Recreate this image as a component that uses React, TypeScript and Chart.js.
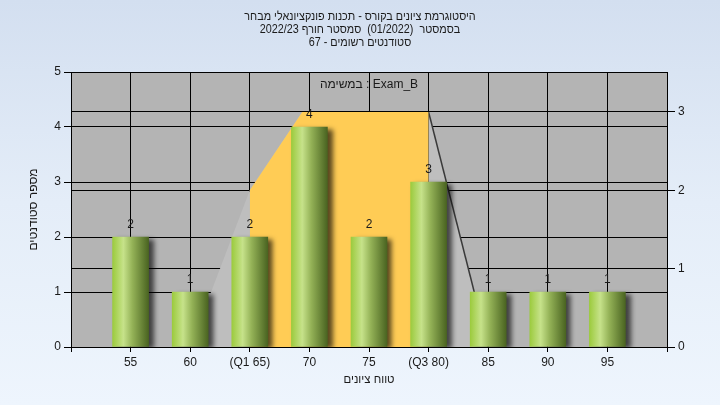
import React, { useEffect, useRef } from 'react';
import { Chart, registerables } from 'chart.js';

Chart.register(...registerables);

// ---- data ----
const categories = ['55', '60', '(Q1 65)', '70', '75', '(Q3 80)', '85', '90', '95'];
const counts = [2, 1, 2, 4, 2, 3, 1, 1, 1];
const leftMax = 5;
const rightMax = 3.51;
// spread outline (right axis), x in category-index units
const spreadX = [1, 2, 2.88, 5, 6];
const spreadY = [0, 2, 3, 3, 0];
// inter-quartile part (right axis)
const iqrX = [2, 2.88, 5];
const iqrY = [2, 3, 3];

const titleLines = [
  'היסטוגרמת ציונים בקורס - תכנות פונקציונאלי מבחר',
  'בסמסטר  (01/2022)  סמסטר חורף 2022/23',
  'סטודנטים רשומים - 67',
];
const seriesCaption = 'במשימה : Exam_B';
const xTitle = 'טווח ציונים';
const yTitle = 'מספר סטודנטים';

const FONT = "'Liberation Sans', Arial, sans-serif";
const TEXT = '#1a1a1a';

function drawCentered(ctx: CanvasRenderingContext2D, text: string, cx: number, cy: number, sx = 1) {
  ctx.save();
  ctx.translate(cx, cy);
  ctx.scale(sx, 1);
  ctx.textAlign = 'center';
  ctx.textBaseline = 'middle';
  ctx.fillText(text, 0, 0);
  ctx.restore();
}

const plotBg = {
  id: 'plotBg',
  beforeDraw(chart: any) {
    const { ctx, chartArea: a } = chart;
    ctx.save();
    ctx.fillStyle = '#b4b4b4';
    ctx.fillRect(a.left, a.top, a.right - a.left, a.bottom - a.top);
    ctx.restore();
  },
};

const barShadow = {
  id: 'barShadow',
  beforeDatasetDraw(chart: any, args: any) {
    if (args.meta.type !== 'bar') return;
    const ctx = chart.ctx;
    ctx.save();
    ctx.shadowColor = 'rgba(0,0,0,0.65)';
    ctx.shadowOffsetX = 5;
    ctx.shadowOffsetY = 2;
    ctx.shadowBlur = 5;
  },
  afterDatasetDraw(chart: any, args: any) {
    if (args.meta.type !== 'bar') return;
    chart.ctx.restore();
  },
};

const textPlugin = {
  id: 'textPlugin',
  afterDatasetsDraw(chart: any) {
    const ctx = chart.ctx;
    const a = chart.chartArea;
    ctx.save();
    ctx.font = `12px ${FONT}`;
    ctx.fillStyle = TEXT;
    ctx.textAlign = 'center';
    ctx.textBaseline = 'alphabetic';
    chart.data.datasets.forEach((ds: any, di: number) => {
      if (ds.type !== 'bar') return;
      const meta = chart.getDatasetMeta(di);
      meta.data.forEach((el: any, i: number) => {
        ctx.fillText(String(counts[i]), el.x, el.y - 9);
      });
    });
    ctx.textBaseline = 'middle';
    ctx.fillText(seriesCaption, (a.left + a.right) / 2, a.top + 13);
    ctx.restore();
  },
  afterDraw(chart: any) {
    const ctx = chart.ctx;
    const a = chart.chartArea;
    ctx.save();
    ctx.fillStyle = TEXT;
    ctx.font = `12px ${FONT}`;
    titleLines.forEach((line, i) => {
      drawCentered(ctx, line, chart.width / 2, 17 + i * 13, 0.9);
    });
    drawCentered(ctx, xTitle, (a.left + a.right) / 2, 380, 0.95);
    ctx.restore();
  },
};

export default function App() {
  const ref = useRef<HTMLCanvasElement>(null);

  useEffect(() => {
    document.body.style.margin = '0';
    const canvas = ref.current;
    if (!canvas) return;

    const barGradient = (c: any) => {
      const chart = c.chart;
      const xs = chart.scales && chart.scales.x;
      if (c.type !== 'data' || !xs || !xs.width) return '#8fb040';
      const cx = xs.getPixelForValue(c.raw.x);
      const half = 18;
      const g = chart.ctx.createLinearGradient(cx - half, 0, cx + half, 0);
      g.addColorStop(0, '#9ccb3e');
      g.addColorStop(0.3, '#c6e28a');
      g.addColorStop(0.55, '#94b257');
      g.addColorStop(1, '#4a6421');
      return g;
    };

    const tickFont = { family: FONT, size: 12 };

    const chart = new Chart(canvas, {
      data: {
        datasets: [
          {
            type: 'bar',
            data: counts.map((v, i) => ({ x: i, y: v })),
            backgroundColor: barGradient,
            borderWidth: 0,
            barThickness: 36,
            xAxisID: 'x',
            yAxisID: 'y',
            order: 0,
          } as any,
          {
            type: 'line',
            data: iqrX.map((x, i) => ({ x, y: iqrY[i] })),
            backgroundColor: '#ffcc55',
            borderColor: 'rgba(0,0,0,0)',
            borderWidth: 0,
            fill: 'origin',
            pointRadius: 0,
            tension: 0,
            xAxisID: 'x',
            yAxisID: 'y2',
            order: 1,
          } as any,
          {
            type: 'line',
            data: spreadX.map((x, i) => ({ x, y: spreadY[i] })),
            backgroundColor: '#bebebe',
            borderColor: 'rgba(0,0,0,0)',
            borderWidth: 1.5,
            segment: {
              borderColor: (s: any) => (s.p0DataIndex === spreadX.length - 2 ? '#3a3a3a' : 'rgba(0,0,0,0)'),
            },
            fill: 'origin',
            pointRadius: 0,
            tension: 0,
            xAxisID: 'x',
            yAxisID: 'y2',
            order: 2,
          } as any,
        ],
      },
      options: {
        animation: false,
        responsive: false,
        maintainAspectRatio: false,
        layout: { padding: { top: 72, left: 0, right: 0, bottom: 0 } },
        events: [],
        plugins: {
          legend: { display: false },
          tooltip: { enabled: false },
          title: { display: false },
        },
        scales: {
          x: {
            type: 'linear',
            position: 'bottom',
            min: -1,
            max: 9,
            offset: false,
            afterFit: (s: any) => {
              s.height = 58;
            },
            ticks: {
              stepSize: 1,
              autoSkip: false,
              maxRotation: 0,
              color: TEXT,
              font: tickFont,
              padding: 3,
              callback: (v: any) => (Number.isInteger(v) && categories[v] !== undefined ? categories[v] : ''),
            },
            grid: { color: '#000', tickColor: '#000', tickLength: 5, lineWidth: 1, offset: false },
            border: { color: '#000', width: 1 },
          },
          y: {
            type: 'linear',
            position: 'left',
            min: 0,
            max: leftMax,
            afterFit: (s: any) => {
              s.width = 71;
            },
            ticks: { stepSize: 1, color: TEXT, font: tickFont, padding: 3 },
            grid: { color: '#000', tickColor: '#000', tickLength: 7, lineWidth: 1 },
            border: { color: '#000', width: 1 },
            title: {
              display: true,
              text: yTitle,
              color: TEXT,
              font: { family: FONT, size: 12 },
              padding: { top: 26, bottom: 0 },
            },
          },
          y2: {
            type: 'linear',
            position: 'right',
            min: 0,
            max: rightMax,
            afterFit: (s: any) => {
              s.width = 53;
            },
            ticks: { stepSize: 1, includeBounds: false, color: TEXT, font: tickFont, padding: 3 },
            grid: { color: '#000', tickColor: '#000', tickLength: 8, lineWidth: 1 },
            border: { color: '#000', width: 1 },
          },
        },
      } as any,
      plugins: [plotBg, barShadow, textPlugin],
    });

    return () => chart.destroy();
  }, []);

  return (
    <div
      style={{
        width: 720,
        height: 405,
        background: 'linear-gradient(180deg, #d3dff0 0%, #e4edf8 50%, #eef5fd 100%)',
      }}
    >
      <canvas ref={ref} width={720} height={405} style={{ display: 'block' }} />
    </div>
  );
}
